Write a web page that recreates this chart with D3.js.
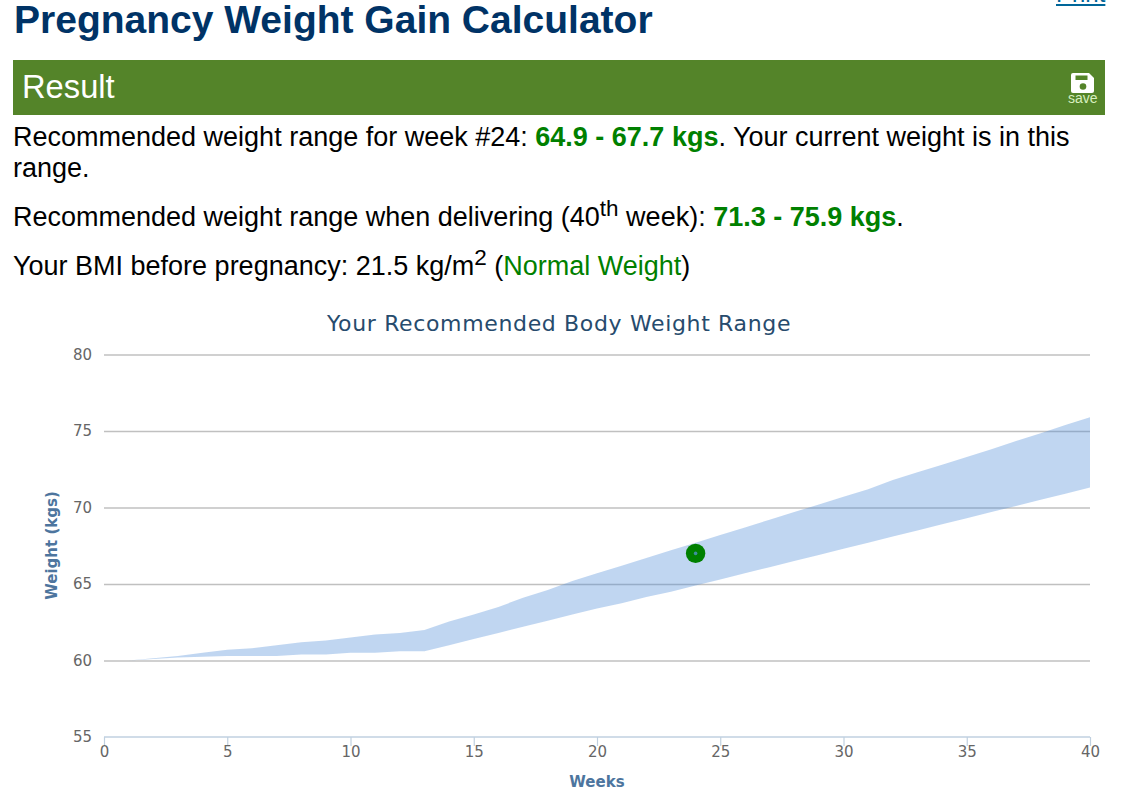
<!DOCTYPE html>
<html>
<head>
<meta charset="utf-8">
<script src="https://cdn.jsdelivr.net/npm/d3@7"></script>
<style>
html, body { margin: 0; padding: 0; background: #fff; overflow: hidden; }
body { width: 1137px; height: 799px; position: relative; font-family: "Liberation Sans", Arial, sans-serif; color: #000; }
.t { position: absolute; white-space: nowrap; font-size: 27px; line-height: 30px; }
.t b, .green { color: #008000; }
sup { font-size: 22.5px; line-height: 0; }
#heading { left: 14px; top: -1px; font-size: 39px; line-height: 42px; font-weight: bold; color: #003366; }
#print { left: 1056px; top: -21px; color: #006699; text-decoration: underline; font-size: 24px; }
#bar { position: absolute; left: 13px; top: 60px; width: 1092px; height: 55px; background: #548429; }
#result { left: 22px; top: 69px; color: #fff; font-size: 32.700px; line-height: 36px; }
#save { left: 1068px; top: 90px; color: #d8f0c0; font-size: 14px; line-height: 16px; }
#chart { position: absolute; left: 0; top: 0; }
#chart text { font-family: "DejaVu Sans", sans-serif; }
</style>
</head>
<body>
<div class="t" id="heading">Pregnancy Weight Gain Calculator</div>
<div class="t" id="print">Print</div>
<div id="bar"></div>
<div class="t" id="result">Result</div>
<svg id="icon" width="30" height="30" style="position:absolute;left:1069px;top:71px">
  <path d="M4 2h16l5 5v13a2 2 0 0 1-2 2h-19a2 2 0 0 1-2-2v-16a2 2 0 0 1 2-2z" fill="#fff"/>
  <rect x="6.500" y="4.500" width="12" height="4.500" fill="#548429"/>
  <circle cx="14" cy="15.500" r="3.300" fill="#548429"/>
</svg>
<div class="t" id="save">save</div>
<div class="t" style="left:13px;top:122px">Recommended weight range for week #24: <b>64.9 - 67.7 kgs</b>. Your current weight is in this</div>
<div class="t" style="left:13px;top:153px">range.</div>
<div class="t" style="left:13px;top:202px">Recommended weight range when delivering (40<sup>th</sup> week): <b>71.3 - 75.9 kgs</b>.</div>
<div class="t" style="left:13px;top:251px">Your BMI before pregnancy: 21.5 kg/m<sup>2</sup> (<span class="green">Normal Weight</span>)</div>
<svg id="chart" width="1137" height="799"></svg>

<script>
let weeks = [1,2,3,4,5,6,7,8,9,10,11,12,13,14,15,16,17,18,19,20,21,22,23,24,25,26,27,28,29,30,31,32,33,34,35,36,37,38,39,40]
let lowWeight = [60,60.1,60.2,60.25,60.3,60.3,60.3,60.4,60.4,60.5,60.5,60.6,60.6,61,61.4,61.8,62.2,62.6,63,63.4,63.75,64.15,64.5,64.9,65.3,65.7,66.1,66.5,66.9,67.3,67.7,68.1,68.5,68.9,69.3,69.7,70.1,70.5,70.9,71.3]
let highWeight = [60,60.15,60.3,60.5,60.7,60.8,61,61.2,61.3,61.5,61.7,61.8,62,62.55,63,63.5,64.1,64.6,65.2,65.7,66.2,66.7,67.2,67.7,68.2,68.7,69.2,69.7,70.2,70.7,71.2,71.8,72.3,72.8,73.3,73.8,74.35,74.85,75.4,75.9]
let currentWeek = [24]
let currentWeight = [67]
let xTicks = [0,5,10,15,20,25,30,35,40]
let yTicks = [55,60,65,70,75,80]

let svg = d3.select("#chart")

let x = d3.scaleLinear().domain([0, 40]).range([104, 1090])
let y = d3.scaleLinear().domain([55, 80]).range([737, 354.5])

svg.append("text")
    .attr("x", 559)
    .attr("y", 331)
    .attr("text-anchor", "middle")
    .style("font-size", "22px")
    .style("fill", "#274b6d")
    .style("letter-spacing", "0.65px")
    .text("Your Recommended Body Weight Range")

// grid and y labels
let yAxis = d3.axisLeft(y)
    .tickValues(yTicks)
    .tickSize(-(x(40) - x(0)))
    .tickPadding(12)

svg.append("g")
    .attr("transform", `translate(${x(0)},0)`)
    .call(yAxis)
    .call(g => g.select(".domain").remove())
    .call(g => g.selectAll("line").filter(d => d != 55).attr("stroke", "#c0c0c0").attr("stroke-width", 1.5))
    .call(g => g.selectAll("line").filter(d => d == 55).remove())
    .call(g => g.selectAll("text").style("font-size", "15px").style("fill", "#666").attr("dy", "0.32em"))

let area = d3.area()
    .x(d => x(d))
    .y0((d, i) => y(lowWeight[i]))
    .y1((d, i) => y(highWeight[i]))

svg.append("path")
    .datum(weeks)
    .attr("d", area)
    .attr("fill", "#4a8ad8")
    .attr("fill-opacity", 0.35)

let xAxis = d3.axisBottom(x)
    .tickValues(xTicks)
    .tickSize(9)
    .tickPadding(0)

svg.append("g")
    .attr("transform", `translate(0,${y(55)})`)
    .call(xAxis)
    .call(g => g.select(".domain").attr("stroke", "#c0d0e0").attr("stroke-width", 1.5).attr("d", `M${x(0)},0H${x(40)}`))
    .call(g => g.selectAll("line").attr("stroke", "#c0d0e0").attr("stroke-width", 1.2))
    .call(g => g.selectAll("text").style("font-size", "15px").style("fill", "#666"))

svg.append("text")
    .attr("x", 597)
    .attr("y", 787)
    .attr("text-anchor", "middle")
    .style("font-size", "15px")
    .style("font-weight", "bold")
    .style("fill", "#4d759e")
    .text("Weeks")

svg.append("text")
    .attr("transform", "translate(57,545.500) rotate(-90)")
    .attr("text-anchor", "middle")
    .style("font-size", "15px")
    .style("font-weight", "bold")
    .style("fill", "#4d759e")
    .text("Weight (kgs)")

svg.selectAll("circle.ring")
    .data(currentWeek)
    .enter()
    .append("circle")
    .attr("class", "ring")
    .attr("cx", d => x(d))
    .attr("cy", (d, i) => y(currentWeight[i]))
    .attr("r", 9.7)
    .attr("fill", "#008000")

svg.selectAll("circle.dot")
    .data(currentWeek)
    .enter()
    .append("circle")
    .attr("class", "dot")
    .attr("cx", d => x(d))
    .attr("cy", (d, i) => y(currentWeight[i]))
    .attr("r", 1.8)
    .attr("fill", "#3f8f9f")
</script>
</body>
</html>
